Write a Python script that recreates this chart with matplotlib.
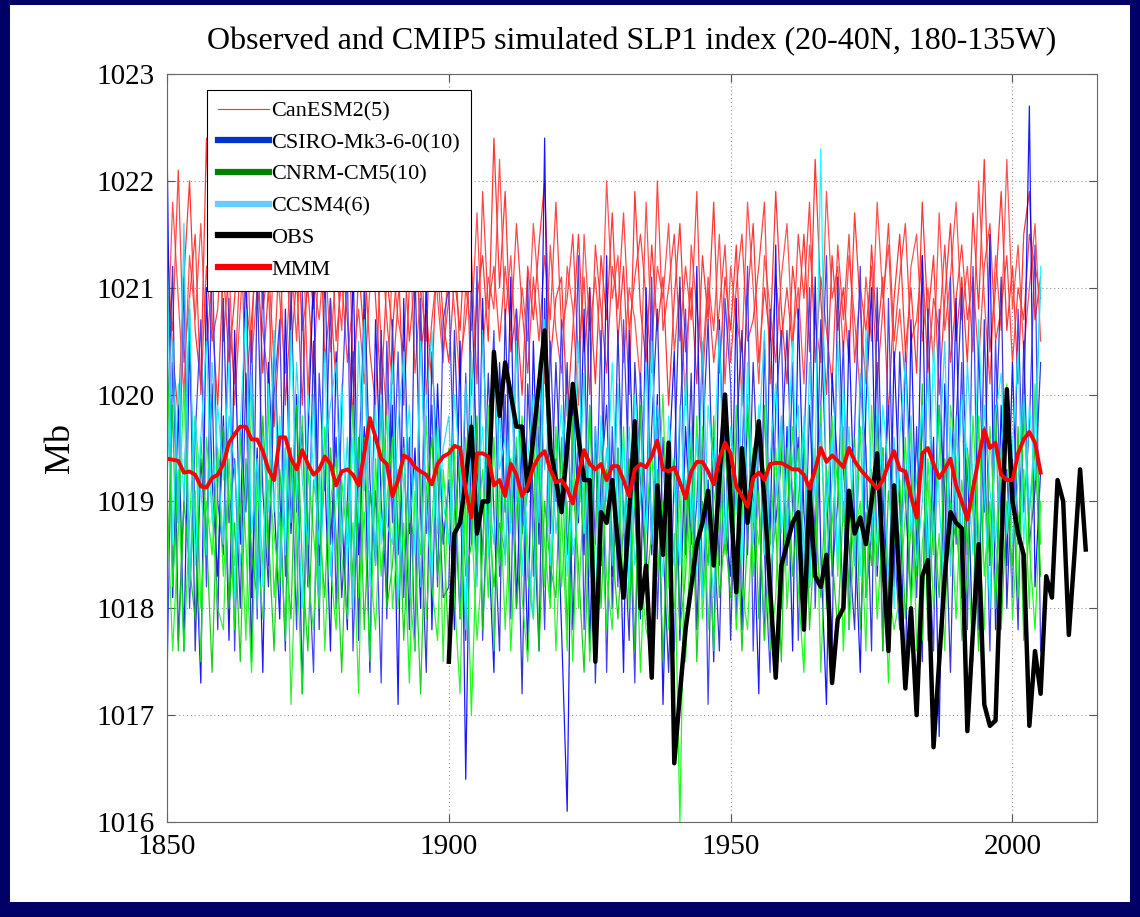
import numpy as np
import matplotlib
matplotlib.use("Agg")
import matplotlib.pyplot as plt
from matplotlib.lines import Line2D
from matplotlib.patches import Rectangle

plt.rcParams['font.family'] = ['Liberation Serif', 'DejaVu Serif']

# years of the model runs and of the observations
anos_modelo = np.arange(1850, 2006)
anos_obs = np.arange(1900, 2014)

# ensemble members, tenths of mb above 1000 (215 -> 1021.5), one value per year 1850-2005
canesm2_r1 = [215, 204, 198, 211, 220, 206, 201, 224, 207, 199,
              212, 203, 209, 218, 200, 207, 214, 202, 210, 197,
              206, 216, 204, 211, 199, 213, 208, 219, 203, 209,
              201, 214, 207, 198, 212, 205, 217, 209, 200, 211,
              206, 213, 199, 210, 218, 204, 208, 201, 215, 207,
              203, 211, 206, 216, 200, 209, 213, 205, 224, 210,
              219, 204, 208, 200, 212, 207, 214, 220, 203, 209,
              211, 198, 206, 215, 204, 210, 201, 213, 207, 217,
              205, 212, 200, 219, 208, 203, 214, 206, 211, 199,
              209, 216, 204, 210, 201, 213, 207, 218, 202, 211,
              206, 214, 199, 209, 216, 203, 210, 205, 219, 208,
              201, 212, 207, 215, 204, 222, 209, 200, 213, 206,
              210, 203, 217, 208, 201, 214, 205, 211, 198, 209,
              215, 204, 210, 202, 218, 207, 213, 200, 209, 216,
              205, 211, 203, 217, 208, 222, 204, 210, 219, 206,
              212, 201, 215, 219, 207, 211]
canesm2_r2 = [203, 218, 209, 200, 213, 207, 216, 204, 211, 221,
              205, 212, 199, 208, 217, 203, 210, 206, 201, 214,
              209, 202, 213, 205, 218, 200, 211, 207, 214, 204,
              212, 206, 219, 203, 208, 201, 210, 215, 205, 198,
              213, 207, 204, 216, 202, 210, 205, 219, 209, 203,
              214, 208, 201, 210, 206, 217, 204, 211, 208, 222,
              207, 213, 203, 210, 205, 216, 209, 201, 214, 206,
              202, 212, 208, 199, 215, 206, 211, 204, 220, 209,
              213, 203, 210, 207, 201, 218, 205, 212, 209, 216,
              204, 210, 199, 214, 208, 203, 211, 206, 215, 201,
              212, 207, 204, 218, 210, 201, 213, 208, 203, 211,
              216, 205, 210, 201, 214, 207, 203, 219, 209, 212,
              204, 213, 207, 200, 211, 205, 218, 209, 214, 203,
              208, 201, 212, 215, 205, 210, 203, 217, 206, 211,
              218, 207, 212, 204, 220, 209, 201, 213, 206, 222,
              208, 214, 204, 210, 216, 205]
canesm2_r3 = [210, 206, 221, 203, 209, 215, 200, 212, 205, 208,
              218, 207, 201, 213, 209, 204, 220, 208, 212, 203,
              214, 199, 208, 216, 206, 210, 202, 213, 209, 217,
              205, 211, 203, 209, 216, 213, 204, 199, 215, 207,
              201, 209, 214, 205, 211, 217, 200, 207, 212, 204,
              209, 216, 203, 207, 213, 201, 219, 208, 212, 205,
              212, 206, 216, 208, 202, 211, 205, 213, 207, 218,
              206, 209, 215, 203, 211, 200, 214, 208, 202, 212,
              208, 217, 206, 211, 215, 209, 202, 220, 206, 210,
              215, 205, 212, 207, 219, 201, 210, 203, 208, 214,
              203, 210, 215, 205, 207, 212, 218, 201, 211, 205,
              210, 204, 215, 209, 218, 203, 211, 206, 201, 214,
              207, 215, 203, 210, 206, 212, 201, 208, 216, 205,
              211, 216, 205, 207, 213, 202, 209, 206, 214, 203,
              209, 214, 207, 211, 203, 212, 216, 205, 208, 213,
              203, 210, 207, 215, 212, 209]

csiro_r1 = [224, 181, 199, 176, 205, 188, 173, 210, 192, 183,
            198, 177, 206, 186, 214, 181, 195, 174, 203, 190,
            179, 208, 187, 200, 172, 196, 211, 184, 193, 176,
            204, 189, 178, 213, 185, 197, 174, 207, 190, 181,
            199, 171, 209, 187, 195, 180, 212, 178, 201, 186,
            192, 178, 205, 164, 198, 183, 209, 187, 174, 203,
            189, 211, 180, 196, 176, 205, 186, 224, 181, 194,
            178, 161, 201, 188, 208, 176, 197, 184, 213, 180,
            195, 174, 206, 189, 179, 210, 185, 200, 171, 193,
            204, 177, 197, 186, 212, 181, 192, 175, 207, 188,
            183, 209, 178, 199, 190, 172, 205, 186, 214, 180,
            197, 176, 208, 189, 182, 211, 185, 171, 202, 193,
            180, 206, 188, 174, 199, 210, 183, 195, 177, 204,
            190, 173, 207, 185, 213, 179, 196, 168, 201, 187,
            209, 181, 194, 176, 205, 189, 215, 178, 199, 184,
            203, 186, 198, 227, 182, 193]
csiro_r2 = [173, 203, 188, 211, 180, 196, 207, 182, 214, 190,
            185, 209, 176, 197, 189, 206, 179, 213, 184, 200,
            207, 183, 195, 178, 210, 186, 174, 202, 191, 209,
            180, 199, 212, 176, 193, 208, 183, 191, 173, 205,
            188, 204, 181, 196, 176, 209, 187, 199, 182, 207,
            210, 191, 179, 202, 186, 212, 177, 194, 206, 183,
            200, 179, 208, 187, 211, 183, 197, 178, 205, 190,
            207, 185, 194, 213, 178, 199, 186, 206, 174, 197,
            182, 207, 191, 173, 202, 188, 211, 179, 196, 185,
            176, 198, 208, 183, 190, 204, 171, 196, 184, 209,
            201, 179, 193, 212, 176, 197, 185, 174, 199, 206,
            184, 203, 177, 195, 210, 180, 199, 213, 183, 190,
            205, 178, 197, 212, 181, 187, 203, 176, 209, 186,
            178, 204, 192, 181, 198, 187, 176, 208, 183, 211,
            186, 203, 178, 212, 182, 197, 176, 205, 188, 193,
            181, 208, 189, 197, 214, 176]
csiro_r3 = [196, 212, 177, 190, 208, 176, 194, 186, 201, 178,
            209, 188, 194, 180, 202, 175, 211, 191, 182, 205,
            191, 176, 210, 189, 197, 182, 205, 178, 213, 186,
            196, 181, 190, 204, 177, 211, 192, 184, 206, 179,
            207, 185, 196, 178, 212, 189, 174, 204, 193, 181,
            182, 206, 190, 177, 211, 193, 185, 202, 189, 176,
            208, 188, 195, 172, 201, 190, 176, 209, 187, 203,
            190, 203, 178, 196, 185, 210, 173, 192, 199, 183,
            206, 188, 177, 203, 192, 183, 197, 208, 186, 174,
            193, 211, 185, 202, 178, 195, 207, 188, 176, 199,
            177, 196, 206, 185, 203, 190, 177, 208, 188, 194,
            206, 189, 196, 181, 199, 186, 207, 192, 176, 211,
            193, 186, 178, 201, 195, 176, 210, 188, 199, 182,
            204, 190, 181, 197, 175, 208, 188, 199, 191, 174,
            197, 210, 185, 192, 178, 207, 184, 196, 211, 180,
            194, 178, 205, 186, 191, 203]

cnrm_r1 = [205, 182, 193, 176, 188, 198, 180, 190, 185, 195,
           183, 191, 178, 196, 186, 174, 192, 184, 199, 181,
           189, 177, 195, 185, 172, 193, 187, 180, 197, 184,
           178, 192, 186, 199, 181, 189, 175, 194, 183, 190,
           196, 180, 188, 173, 191, 185, 198, 182, 177, 193,
           186, 195, 179, 190, 170, 187, 193, 181, 196, 184,
           191, 176, 189, 198, 183, 179, 194, 186, 180, 197,
           182, 190, 175, 193, 187, 199, 181, 188, 178, 192,
           185, 197, 180, 191, 174, 188, 195, 183, 190, 178,
           187, 160, 192, 182, 198, 179, 189, 176, 194, 185,
           193, 178, 188, 200, 183, 191, 177, 186, 195, 180,
           189, 197, 182, 174, 192, 185, 199, 180, 188, 194,
           176, 190, 184, 197, 181, 193, 179, 188, 173, 191,
           186, 196, 180, 189, 177, 194, 185, 199, 182, 190,
           179, 192, 186, 175, 198, 183, 190, 180, 195, 187,
           193, 181, 199, 186, 178, 190]
cnrm_r2 = [183, 199, 176, 190, 184, 179, 196, 187, 174, 192,
           197, 180, 188, 175, 194, 185, 181, 198, 187, 176,
           193, 186, 179, 199, 184, 176, 192, 188, 181, 195,
           187, 174, 190, 183, 196, 178, 191, 185, 199, 180,
           184, 193, 177, 189, 186, 172, 191, 196, 183, 188,
           176, 189, 194, 183, 186, 198, 178, 190, 182, 188,
           185, 194, 180, 187, 191, 197, 176, 190, 184, 181,
           196, 178, 192, 184, 174, 189, 195, 180, 193, 186,
           179, 188, 194, 176, 199, 182, 187, 193, 175, 191,
           194, 178, 183, 196, 175, 190, 184, 198, 181, 187,
           181, 192, 176, 187, 195, 179, 199, 183, 188, 175,
           195, 183, 190, 197, 178, 188, 181, 193, 185, 178,
           190, 182, 196, 178, 189, 184, 198, 176, 191, 186,
           192, 179, 188, 183, 201, 177, 189, 181, 194, 185,
           188, 181, 195, 189, 176, 192, 184, 199, 178, 190,
           184, 197, 177, 189, 195, 183]
cnrm_r3 = [190, 176, 187, 201, 182, 191, 175, 196, 189, 180,
           178, 194, 184, 190, 177, 200, 186, 179, 192, 187,
           182, 195, 171, 188, 198, 183, 178, 193, 176, 190,
           194, 185, 179, 188, 172, 196, 184, 178, 191, 198,
           180, 187, 195, 182, 176, 193, 179, 188, 197, 175,
           195, 181, 172, 196, 189, 177, 185, 199, 176, 192,
           178, 190, 196, 181, 175, 188, 199, 182, 193, 176,
           189, 176, 198, 180, 192, 175, 187, 196, 183, 178,
           195, 181, 186, 197, 184, 178, 176, 189, 200, 182,
           180, 191, 175, 188, 184, 197, 178, 191, 187, 195,
           187, 199, 182, 178, 190, 186, 193, 176, 181, 197,
           180, 189, 195, 186, 182, 195, 174, 189, 198, 183,
           197, 178, 187, 190, 176, 199, 184, 195, 182, 178,
           181, 189, 197, 176, 186, 192, 180, 187, 176, 199,
           194, 177, 183, 198, 187, 178, 197, 186, 182, 201,
           179, 188, 193, 180, 201, 186]

ccsm4_r1 = [214, 186, 201, 190, 209, 184, 196, 205, 188, 199,
            192, 203, 181, 197, 208, 187, 194, 182, 201, 189,
            198, 185, 206, 191, 180, 200, 193, 186, 204, 183,
            190, 201, 184, 196, 188, 207, 182, 199, 186, 194,
            203, 181, 192, 199, 185, 205, 189, 183, 197, 190,
            186, 200, 193, 178, 204, 190, 197, 185, 202, 193,
            196, 187, 205, 183, 194, 200, 188, 207, 184, 192,
            199, 183, 191, 205, 187, 194, 180, 198, 190, 203,
            188, 196, 182, 200, 193, 187, 205, 190, 183, 198,
            191, 184, 202, 188, 196, 181, 199, 193, 206, 186,
            197, 190, 184, 203, 188, 199, 185, 194, 201, 187,
            193, 205, 186, 198, 182, 194, 223, 189, 196, 184,
            201, 188, 195, 183, 206, 191, 186, 199, 193, 180,
            196, 203, 187, 192, 199, 184, 205, 190, 181, 197,
            189, 200, 194, 185, 207, 191, 180, 198, 202, 187,
            195, 204, 186, 199, 192, 212]
ccsm4_r2 = [192, 205, 188, 216, 182, 198, 191, 185, 203, 194,
            186, 198, 193, 184, 191, 202, 180, 196, 189, 206,
            183, 195, 188, 203, 192, 186, 200, 181, 194, 199,
            203, 186, 196, 180, 205, 191, 197, 184, 200, 188,
            186, 197, 204, 188, 193, 182, 199, 206, 187, 195,
            198, 185, 189, 201, 192, 182, 206, 191, 186, 199,
            184, 201, 190, 196, 186, 179, 203, 193, 198, 187,
            193, 200, 185, 189, 202, 183, 197, 188, 195, 184,
            201, 187, 197, 184, 190, 203, 186, 199, 193, 187,
            184, 199, 190, 197, 183, 205, 188, 181, 194, 200,
            189, 183, 201, 192, 186, 196, 206, 182, 190, 198,
            187, 194, 199, 183, 203, 190, 197, 184, 192, 205,
            188, 197, 184, 202, 190, 186, 199, 193, 183, 196,
            185, 192, 198, 184, 190, 202, 186, 194, 205, 183,
            198, 186, 203, 192, 184, 199, 191, 186, 195, 200,
            186, 192, 200, 189, 197, 210]

# observed index 1900-2013 (mb)
slp_obs = [1017.5, 1018.7, 1018.8, 1019.2, 1019.7, 1018.7, 1019.0, 1019.0, 1020.4, 1019.8,
           1020.3, 1020.0, 1019.7, 1019.7, 1019.1, 1019.6, 1020.1, 1020.6, 1019.5, 1019.2,
           1018.9, 1019.5, 1020.1, 1019.6, 1019.2, 1019.2, 1017.5, 1018.9, 1018.8, 1019.2,
           1018.6, 1018.1, 1018.9, 1019.75, 1018.0, 1018.4, 1017.35, 1019.15, 1018.5, 1019.55,
           1016.55, 1017.2, 1017.8, 1018.2, 1018.6, 1018.8, 1019.1, 1018.4, 1019.2, 1020.0,
           1019.0, 1018.15, 1019.5, 1018.8, 1019.3, 1019.75, 1019.0, 1018.2, 1017.35, 1018.4,
           1018.6, 1018.8, 1018.9, 1017.8, 1019.1, 1018.3, 1018.2, 1018.5, 1017.3, 1017.9,
           1018.0, 1019.1, 1018.7, 1018.85, 1018.6, 1019.0, 1019.45, 1018.5, 1017.6, 1019.15,
           1018.2, 1017.25, 1018.0, 1017.0, 1018.3, 1018.45, 1016.7, 1017.5, 1018.3, 1018.9,
           1018.8, 1018.75, 1016.85, 1017.8, 1018.6, 1017.1, 1016.9, 1016.95, 1018.5, 1020.05,
           1019.0, 1018.7, 1018.5, 1016.9, 1017.6, 1017.2, 1018.3, 1018.1, 1019.2, 1019.0,
           1017.75, 1018.5, 1019.3, 1018.55]

# multi-model mean 1850-2005 (mb)
slp_mmm = [1019.40, 1019.39, 1019.38, 1019.27, 1019.28, 1019.25, 1019.14, 1019.13, 1019.22, 1019.25,
           1019.35, 1019.55, 1019.63, 1019.70, 1019.70, 1019.58, 1019.58, 1019.47, 1019.30, 1019.20,
           1019.60, 1019.60, 1019.40, 1019.30, 1019.48, 1019.35, 1019.25, 1019.30, 1019.42, 1019.35,
           1019.15, 1019.28, 1019.30, 1019.25, 1019.15, 1019.45, 1019.78, 1019.60, 1019.40, 1019.35,
           1019.05, 1019.20, 1019.43, 1019.40, 1019.32, 1019.28, 1019.25, 1019.16, 1019.35, 1019.42,
           1019.45, 1019.52, 1019.50, 1019.10, 1018.85, 1019.45, 1019.45, 1019.42, 1019.15, 1019.20,
           1019.05, 1019.35, 1019.25, 1019.05, 1019.15, 1019.32, 1019.42, 1019.47, 1019.30, 1019.18,
           1019.20, 1019.12, 1018.98, 1019.25, 1019.48, 1019.35, 1019.30, 1019.35, 1019.20, 1019.33,
           1019.33, 1019.20, 1019.05, 1019.30, 1019.35, 1019.32, 1019.42, 1019.57, 1019.30, 1019.28,
           1019.32, 1019.18, 1019.03, 1019.28, 1019.37, 1019.37, 1019.28, 1019.16, 1019.40, 1019.55,
           1019.45, 1019.14, 1019.05, 1018.95, 1019.22, 1019.27, 1019.20, 1019.35, 1019.36, 1019.36,
           1019.33, 1019.30, 1019.30, 1019.25, 1019.12, 1019.30, 1019.50, 1019.37, 1019.43, 1019.38,
           1019.32, 1019.50, 1019.38, 1019.30, 1019.24, 1019.18, 1019.12, 1019.20, 1019.35, 1019.47,
           1019.30, 1019.28, 1019.05, 1018.85, 1019.45, 1019.50, 1019.35, 1019.22, 1019.30, 1019.40,
           1019.15, 1019.00, 1018.83, 1019.12, 1019.40, 1019.67, 1019.50, 1019.55, 1019.25, 1019.20,
           1019.20, 1019.45, 1019.58, 1019.65, 1019.55, 1019.27]

modelos = ["CanESM2(5)", "CSIRO-Mk3-6-0(10)", "CNRM-CM5(10)", "CCSM4(6)"]
miembros = [[canesm2_r1, canesm2_r2, canesm2_r3],
            [csiro_r1, csiro_r2, csiro_r3],
            [cnrm_r1, cnrm_r2, cnrm_r3],
            [ccsm4_r1, ccsm4_r2]]
colores_linea = [["#ff2020", "#ff4040", "#ff3030"],
                 ["#0000ff", "#3030ff", "#2020cc"],
                 ["#00ff00", "#00cc00", "#22ee22"],
                 ["#00ffff", "#20d8f0"]]
colores_leyenda = ["#ff3030", "#0033cc", "#008000", "#66ccff"]

fig = plt.figure(figsize=(11.4, 9.17), dpi=100, facecolor="#000066")
# white panel inside the navy frame, behind the axes
fondo = Rectangle((10 / 1140, 15 / 917), 1120 / 1140, 897 / 917,
                  transform=fig.transFigure, facecolor="white",
                  edgecolor="none", zorder=-10)
fig.add_artist(fondo)

ax = fig.add_axes([167 / 1140, 95 / 917, 930 / 1140, 748 / 917])

for grupo, cols in zip(miembros, colores_linea):
    for serie, c in zip(grupo, cols):
        ax.plot(anos_modelo, 1000 + np.array(serie) / 10, color=c, lw=0.9, alpha=0.9)

ax.plot(anos_obs, slp_obs, color="black", lw=3.2)
ax.plot(anos_modelo, slp_mmm, color="red", lw=2.8)

ax.set_xlim(1850, 2015)
ax.set_ylim(1016, 1023)
ax.set_xticks([1850, 1900, 1950, 2000])
ax.set_yticks(range(1016, 1024))
ax.tick_params(direction="in", length=6, labelsize=21, top=True, right=True,
               color="#555555", pad=9)
ax.grid(True, linestyle=(0, (1, 2.5)), color="#999999", lw=0.8)
for s in ax.spines.values():
    s.set_color("#666666")

ax.set_ylabel("Mb", fontsize=26, labelpad=14)
fig.text(632 / 1140, 1 - 42 / 917,
         "Observed and CMIP5 simulated SLP1 index (20-40N, 180-135W)",
         ha="center", va="center", fontsize=23)

manejadores = [Line2D([], [], color=colores_leyenda[0], lw=0.8)]
manejadores += [Line2D([], [], color=c, lw=4.5) for c in colores_leyenda[1:]]
manejadores += [Line2D([], [], color="black", lw=4.5), Line2D([], [], color="red", lw=4.5)]
etiquetas = modelos + ["OBS", "MMM"]
leg = ax.legend(manejadores, etiquetas, loc="upper left", bbox_to_anchor=(0.043, 0.979),
                borderaxespad=0, fontsize=16, handlelength=2.3, handletextpad=0.1,
                labelspacing=0.5, fancybox=False, framealpha=1, borderpad=0.5)
leg.get_frame().set_edgecolor("black")
leg.get_frame().set_linewidth(0.8)

fig.savefig("out.png", dpi=100, facecolor=fig.get_facecolor())
